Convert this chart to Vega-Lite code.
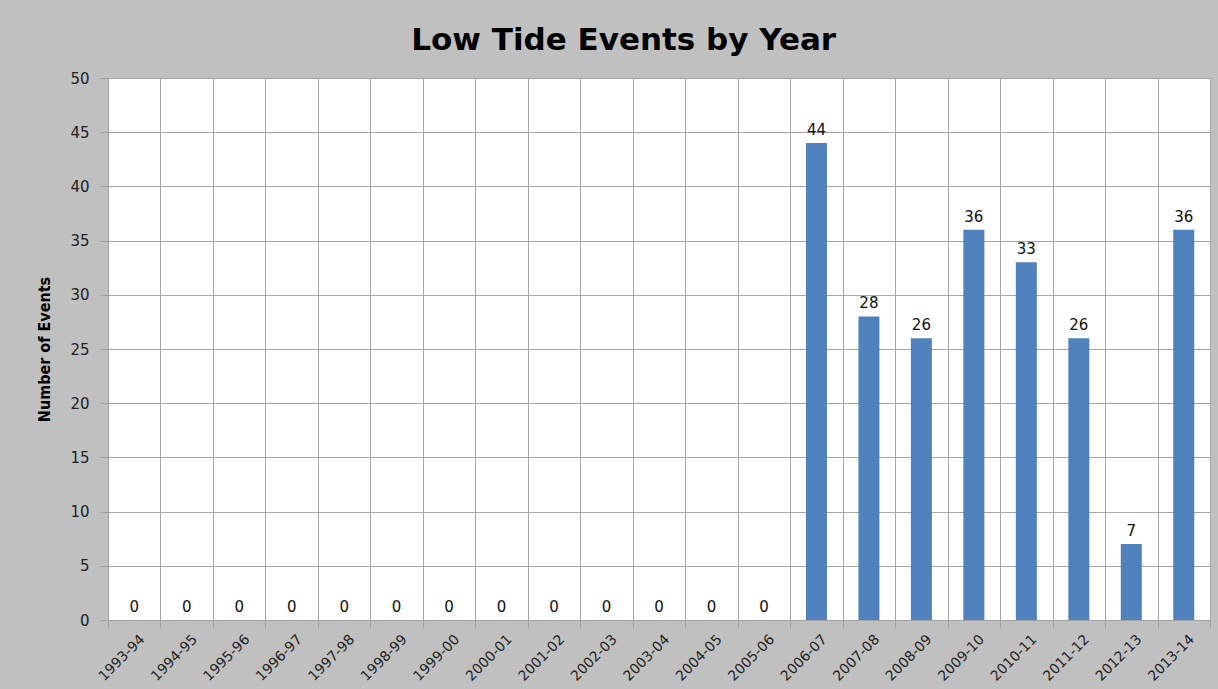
{
  "$schema": "https://vega.github.io/schema/vega-lite/v6.json",
  "width": 1102,
  "height": 542,
  "autosize": {"type": "none"},
  "padding": {"left": 108, "top": 78, "right": 8, "bottom": 69},
  "background": "#c0c0c0",
  "title": {
    "text": "Low Tide Events by Year",
    "font": "DejaVu Sans",
    "fontWeight": "bold",
    "fontSize": 31,
    "color": "#000000",
    "anchor": "middle",
    "frame": "bounds",
    "offset": 14
  },
  "config": {
    "view": {"stroke": "#a0a0a0", "fill": "#ffffff"},
    "axis": {"labelFont": "DejaVu Sans", "labelColor": "#222222", "gridColor": "#a6a6a6", "domainColor": "#a0a0a0", "tickColor": "#a0a0a0"}
  },
  "data": {
    "values": [
      {"season": "1993-94", "events": 0},
      {"season": "1994-95", "events": 0},
      {"season": "1995-96", "events": 0},
      {"season": "1996-97", "events": 0},
      {"season": "1997-98", "events": 0},
      {"season": "1998-99", "events": 0},
      {"season": "1999-00", "events": 0},
      {"season": "2000-01", "events": 0},
      {"season": "2001-02", "events": 0},
      {"season": "2002-03", "events": 0},
      {"season": "2003-04", "events": 0},
      {"season": "2004-05", "events": 0},
      {"season": "2005-06", "events": 0},
      {"season": "2006-07", "events": 44},
      {"season": "2007-08", "events": 28},
      {"season": "2008-09", "events": 26},
      {"season": "2009-10", "events": 36},
      {"season": "2010-11", "events": 33},
      {"season": "2011-12", "events": 26},
      {"season": "2012-13", "events": 7},
      {"season": "2013-14", "events": 36}
    ]
  },
  "encoding": {
    "x": {
      "field": "season",
      "type": "nominal",
      "sort": null,
      "scale": {"paddingInner": 0, "paddingOuter": 0},
      "axis": {
        "title": null,
        "labelAngle": -45,
        "labelFontSize": 14,
        "tickBand": "extent",
        "grid": true,
        "tickSize": 7,
        "labelPadding": 5,
        "labelOffset": 3
      }
    },
    "y": {
      "field": "events",
      "type": "quantitative",
      "scale": {"domain": [0, 50], "nice": false},
      "axis": {
        "title": "Number of Events",
        "titleFont": "DejaVu Sans Condensed",
        "titleFontWeight": "bold",
        "titleFontSize": 16,
        "titleColor": "#000000",
        "titlePadding": 17,
        "values": [0, 5, 10, 15, 20, 25, 30, 35, 40, 45, 50],
        "labelFontSize": 15,
        "tickSize": 8,
        "labelPadding": 11
      }
    }
  },
  "layer": [
    {"mark": {"type": "bar", "color": "#4f81bd", "strokeWidth": 0, "width": {"band": 0.4}}},
    {
      "mark": {"type": "text", "baseline": "bottom", "dy": -5, "font": "DejaVu Sans", "fontSize": 15, "color": "#111111"},
      "encoding": {"text": {"field": "events", "type": "quantitative"}}
    }
  ]
}
